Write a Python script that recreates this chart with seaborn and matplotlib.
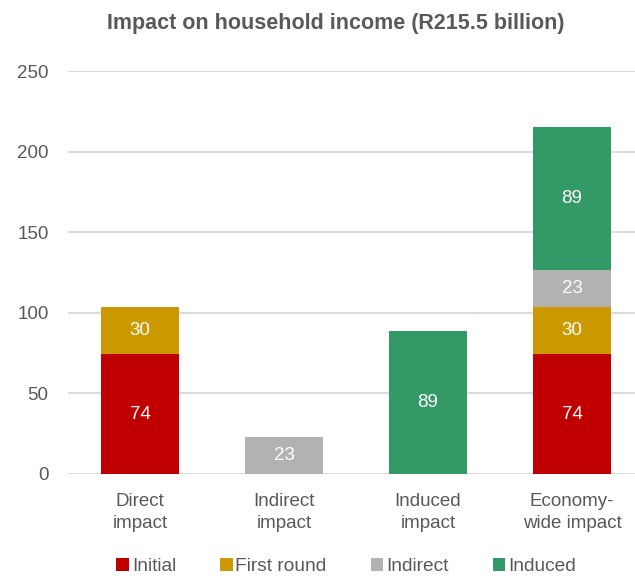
import matplotlib
matplotlib.use("Agg")
import matplotlib.pyplot as plt
from matplotlib.patches import Patch
import numpy as np
import pandas as pd
import seaborn as sns

categories = ["Direct\nimpact", "Indirect\nimpact", "Induced\nimpact", "Economy-\nwide impact"]
series = ["Initial", "First round", "Indirect", "Induced"]
initial = [74.2, 0, 0, 74.2]
first_round = [29.6, 0, 0, 29.6]
indirect = [0, 23.0, 0, 23.0]
induced = [0, 0, 88.7, 88.7]
colors = ["#C00000", "#CC9900", "#B2B2B2", "#339966"]
title = "Impact on household income (R215.5 billion)"

sns.set_theme(style="white")
plt.rcParams["font.family"] = ["Liberation Sans", "DejaVu Sans"]
text_gray = "#595959"

values = np.array([initial, first_round, indirect, induced])
cum = np.cumsum(values, axis=0)

fig = plt.figure(figsize=(6.35, 5.78), dpi=100)
ax = fig.add_axes([68 / 635, (578 - 474) / 578, (635 - 68) / 635, (474 - 71) / 578])

# horizontal gridlines behind bars
for yv in range(0, 251, 50):
    ax.axhline(yv, color="#D9D9D9", lw=1.3, zorder=0)

# stacked bars: draw cumulative totals from the top series down
for i in range(len(series) - 1, -1, -1):
    df = pd.DataFrame({"category": categories, "value": cum[i]})
    sns.barplot(data=df, x="category", y="value", color=colors[i], saturation=1,
                width=0.535, ax=ax, linewidth=0, zorder=2)

# value labels in the middle of each segment
for i in range(len(series)):
    for j in range(len(categories)):
        v = values[i, j]
        if v > 0:
            ax.text(j, cum[i, j] - v / 2, f"{v:.0f}", ha="center", va="center",
                    color="white", fontsize=13.5, zorder=3)

ax.set_xlim(-0.5, -0.5 + 567 / 144)
ax.set_ylim(0, 250)
ax.set_yticks(range(0, 251, 50))
ax.set_xlabel("")
ax.set_ylabel("")
ax.tick_params(axis="y", labelsize=13.5, labelcolor=text_gray, length=0, pad=14)
ax.tick_params(axis="x", labelsize=13.5, labelcolor=text_gray, length=0, pad=14)
for lbl in ax.get_xticklabels():
    lbl.set_linespacing(1.35)
for s in ax.spines.values():
    s.set_visible(False)
ax.grid(False)

fig.text(0.528, 0.960, title, ha="center", va="center", fontsize=15.5,
         fontweight="bold", color=text_gray)

handles = [Patch(facecolor=c, edgecolor="none", label=s) for c, s in zip(colors, series)]
fig.legend(handles=handles, loc="center", bbox_to_anchor=(0.545, 0.02), ncol=4,
           frameon=False, fontsize=13.8, handlelength=0.65, handleheight=0.65,
           handletextpad=0.15, columnspacing=2.3, labelcolor=text_gray,
           borderpad=0.1)

fig.savefig("out.png", dpi=100)
